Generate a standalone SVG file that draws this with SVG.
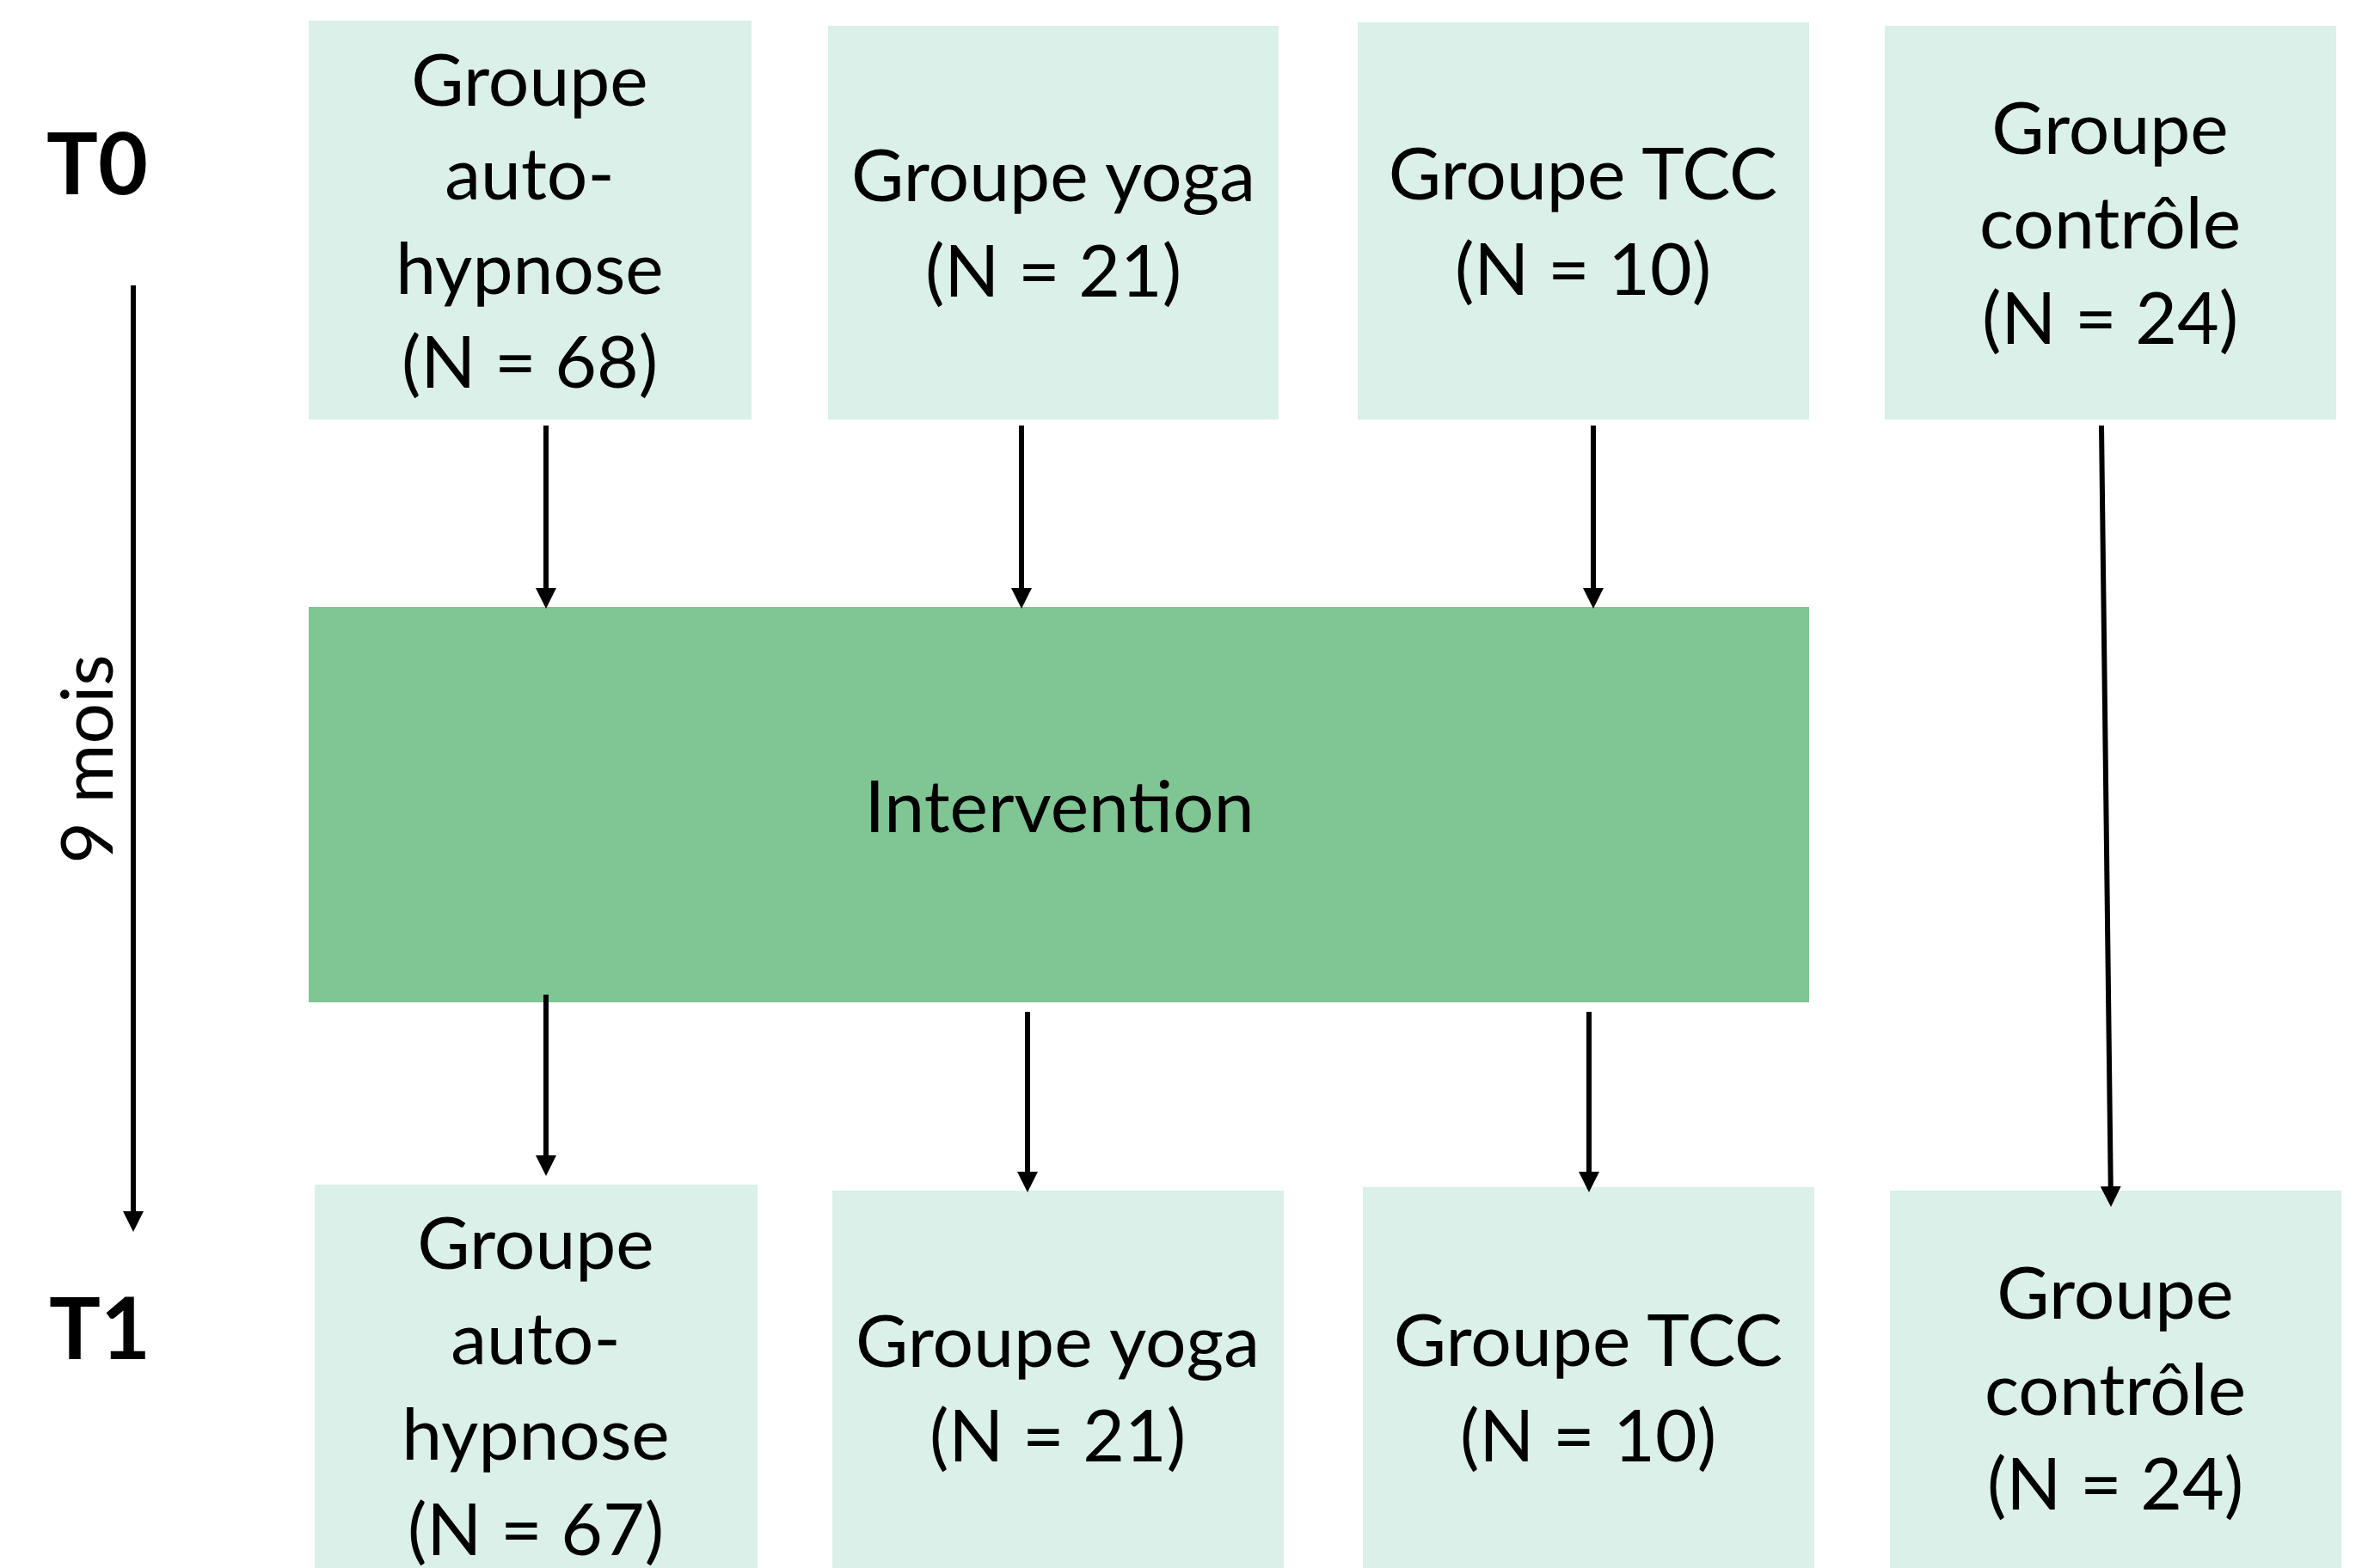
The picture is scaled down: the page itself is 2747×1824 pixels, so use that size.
<svg xmlns="http://www.w3.org/2000/svg" width="2747" height="1824" viewBox="0 0 2747 1824">
<defs>
<style>
.box{fill:#DAF0E9;}
.int{fill:#80C594;}
.t{font-family:Lato,"Open Sans",sans-serif;font-size:84px;fill:#000;text-anchor:middle;}
.lbl{font-family:Lato,"Open Sans",sans-serif;font-size:100px;font-weight:bold;fill:#000;text-anchor:middle;}
.c{stroke:#000;stroke-width:6;fill:none;marker-end:url(#ah);}
</style>
<marker id="ah" markerUnits="userSpaceOnUse" markerWidth="24" markerHeight="24" viewBox="0 0 24 24" refX="4" refY="12" orient="auto">
<path d="M0,0 L24,12 L0,24 z" fill="#000"/>
</marker>
</defs>
<rect width="2747" height="1824" fill="#fff"/>
<g id="labels">
<text class="lbl" x="113" y="226">T0</text>
<text class="lbl" x="116" y="1581">T1</text>
<text class="t" transform="translate(131,883) rotate(-90)" x="0" y="0">9 mois</text>
</g>
<g id="t0-autohypnose">
<rect class="box" x="359" y="24" width="515" height="464"/>
<text class="t" x="616" y="123">Groupe</text>
<text class="t" x="616" y="232">auto-</text>
<text class="t" x="616" y="342">hypnose</text>
<text class="t" x="616" y="451">(N = 68)</text>
</g>
<g id="t0-yoga">
<rect class="box" x="963" y="30" width="524" height="458"/>
<text class="t" x="1225" y="234">Groupe yoga</text>
<text class="t" x="1225" y="345">(N = 21)</text>
</g>
<g id="t0-tcc">
<rect class="box" x="1579" y="26" width="525" height="462"/>
<text class="t" x="1841" y="232">Groupe TCC</text>
<text class="t" x="1841" y="343">(N = 10)</text>
</g>
<g id="t0-controle">
<rect class="box" x="2192" y="30" width="525" height="458"/>
<text class="t" x="2454" y="179">Groupe</text>
<text class="t" x="2454" y="289">contrôle</text>
<text class="t" x="2454" y="400">(N = 24)</text>
</g>
<g id="intervention">
<rect class="int" x="359" y="706" width="1745" height="460"/>
<text class="t" x="1232" y="968">Intervention</text>
</g>
<g id="t1-autohypnose">
<rect class="box" x="366" y="1378" width="515" height="466"/>
<text class="t" x="623" y="1476">Groupe</text>
<text class="t" x="623" y="1587">auto-</text>
<text class="t" x="623" y="1698">hypnose</text>
<text class="t" x="623" y="1809">(N = 67)</text>
</g>
<g id="t1-yoga">
<rect class="box" x="968" y="1385" width="525" height="460"/>
<text class="t" x="1230" y="1590">Groupe yoga</text>
<text class="t" x="1230" y="1700">(N = 21)</text>
</g>
<g id="t1-tcc">
<rect class="box" x="1585" y="1381" width="525" height="464"/>
<text class="t" x="1847" y="1589">Groupe TCC</text>
<text class="t" x="1847" y="1700">(N = 10)</text>
</g>
<g id="t1-controle">
<rect class="box" x="2198" y="1385" width="525" height="460"/>
<text class="t" x="2460" y="1534">Groupe</text>
<text class="t" x="2460" y="1646">contrôle</text>
<text class="t" x="2460" y="1756">(N = 24)</text>
</g>
<g id="connectors">
<line class="c" x1="155" y1="332" x2="155" y2="1413"/>
<line class="c" x1="635" y1="495" x2="635" y2="688"/>
<line class="c" x1="1188" y1="495" x2="1188" y2="688"/>
<line class="c" x1="1853" y1="495" x2="1853" y2="688"/>
<line class="c" x1="2444" y1="495" x2="2454.8" y2="1384"/>
<line class="c" x1="635" y1="1157" x2="635" y2="1348"/>
<line class="c" x1="1195" y1="1177" x2="1195" y2="1367"/>
<line class="c" x1="1848" y1="1177" x2="1848" y2="1367"/>
</g>
</svg>
